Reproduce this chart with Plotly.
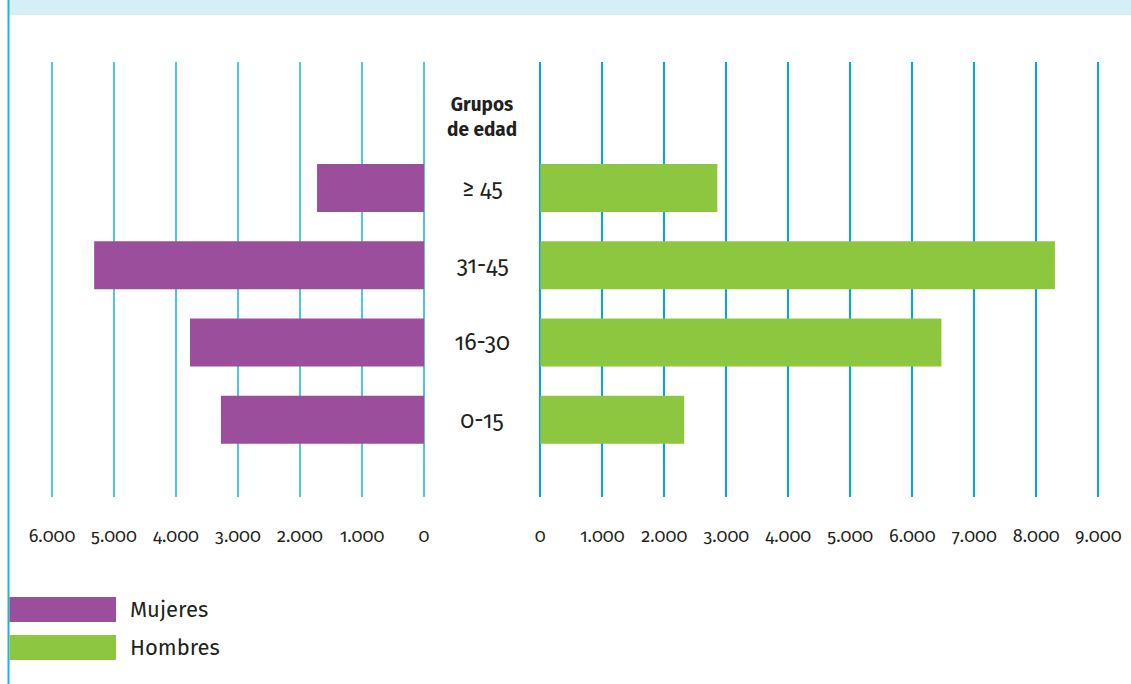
import plotly.graph_objects as go

# ---- data ----
categories = ["0-15", "16-30", "31-45", "≥ 45"]
mujeres = [3275, 3775, 5320, 1725]
hombres = [2320, 6470, 8300, 2855]
left_ticks = [6000, 5000, 4000, 3000, 2000, 1000, 0]
left_ticktext = ["6.000", "5.000", "4.000", "3.000", "2.000", "1.000", "0"]
right_ticks = [0, 1000, 2000, 3000, 4000, 5000, 6000, 7000, 8000, 9000]
right_ticktext = ["0", "1.000", "2.000", "3.000", "4.000", "5.000", "6.000", "7.000", "8.000", "9.000"]
series_names = ["Mujeres", "Hombres"]
header = "<b>Grupos<br>de edad</b>"

W, H = 1131, 684
PURPLE = "#9a4e9b"
GREEN = "#8dc63f"
GRID_L = "#4fc6e2"
GRID_R = "#00aad2"
FONT = "Fira Sans, Open Sans, Lato, sans-serif"
TXT = "#231f20"

def px(x):
    return x / W

def py(y):
    return 1 - y / H

PPU = 62 / 1000.0  # pixels per unit on both panels

fig = go.Figure()
fig.add_trace(go.Bar(y=categories, x=mujeres, orientation="h", marker_color=PURPLE,
                     width=0.62, xaxis="x", yaxis="y", name=series_names[0], showlegend=False))
fig.add_trace(go.Bar(y=categories, x=hombres, orientation="h", marker_color=GREEN,
                     width=0.62, xaxis="x2", yaxis="y2", name=series_names[1], showlegend=False))

ydom = [py(497), py(62)]
yrange = [-1.0, 4.63]
common_x = dict(showgrid=True, gridwidth=1.5, zeroline=False, showline=False, automargin=False,
                ticks="outside", ticklen=22, tickcolor="rgba(0,0,0,0)",
                tickfont=dict(family=FONT, size=18, color=TXT), fixedrange=True)
common_y = dict(type="category", showticklabels=False, showgrid=False, zeroline=False,
                showline=False, automargin=False, fixedrange=True, domain=ydom, range=yrange)

pad = 100
fig.update_layout(
    template="none",
    width=W, height=H, autosize=False,
    margin=dict(l=0, r=0, t=0, b=0, pad=0, autoexpand=False),
    paper_bgcolor="white", plot_bgcolor="rgba(0,0,0,0)",
    xaxis=dict(domain=[px(52 - pad * PPU), px(424 + pad * PPU)], range=[6000 + pad, -pad],
               tickmode="array", tickvals=left_ticks, ticktext=left_ticktext, gridcolor=GRID_L,
               anchor="y", **common_x),
    xaxis2=dict(domain=[px(540.3 - pad * PPU), px(1098.3 + pad * PPU)], range=[-pad, 9000 + pad],
                tickmode="array", tickvals=right_ticks, ticktext=right_ticktext, gridcolor=GRID_R,
                anchor="y2", **common_x),
    yaxis=dict(anchor="x", **common_y),
    yaxis2=dict(anchor="x2", matches="y", **common_y),
    showlegend=False,
)

# category labels in the middle column
for c in categories:
    fig.add_annotation(x=px(482), xref="paper", y=c, yref="y", text=c, showarrow=False,
                       font=dict(family=FONT, size=23, color=TXT),
                       xanchor="center", yanchor="middle")

fig.add_annotation(x=px(482), xref="paper", y=py(117), yref="paper", text=header,
                   showarrow=False, font=dict(family=FONT, size=19, color=TXT),
                   xanchor="center", yanchor="middle")

# decorations: top band and left rule
fig.add_shape(type="rect", xref="paper", yref="paper", x0=px(9), x1=1, y0=py(15), y1=1,
              fillcolor="#d6eef6", line_width=0, layer="below")
fig.add_shape(type="line", xref="paper", yref="paper", x0=px(8.5), x1=px(8.5), y0=0, y1=1,
              line=dict(color="#1fb5d9", width=2))

# legend
legend_colors = [PURPLE, GREEN]
legend_y = [(597, 622), (635, 660)]
for name, col, (y0, y1) in zip(series_names, legend_colors, legend_y):
    fig.add_shape(type="rect", xref="paper", yref="paper", x0=px(9.5), x1=px(116),
                  y0=py(y1), y1=py(y0), fillcolor=col, line_width=0)
    fig.add_annotation(x=px(128), xref="paper", y=py((y0 + y1) / 2), yref="paper",
                       text=name, showarrow=False, xanchor="left", yanchor="middle",
                       font=dict(family=FONT, size=22, color=TXT))

post = """
document.documentElement.style.margin='0';
document.body.style.margin='0';
document.body.style.overflow='hidden';
var st=document.createElement('style');
st.textContent='svg text{font-feature-settings:"onum" 1;}';
document.head.appendChild(st);
var gd=document.getElementById('{plot_id}');
Plotly.relayout(gd,{width:1131,height:684});
"""

fig.write_html("out.html", config={"displayModeBar": False, "responsive": False},
               post_script=post)
